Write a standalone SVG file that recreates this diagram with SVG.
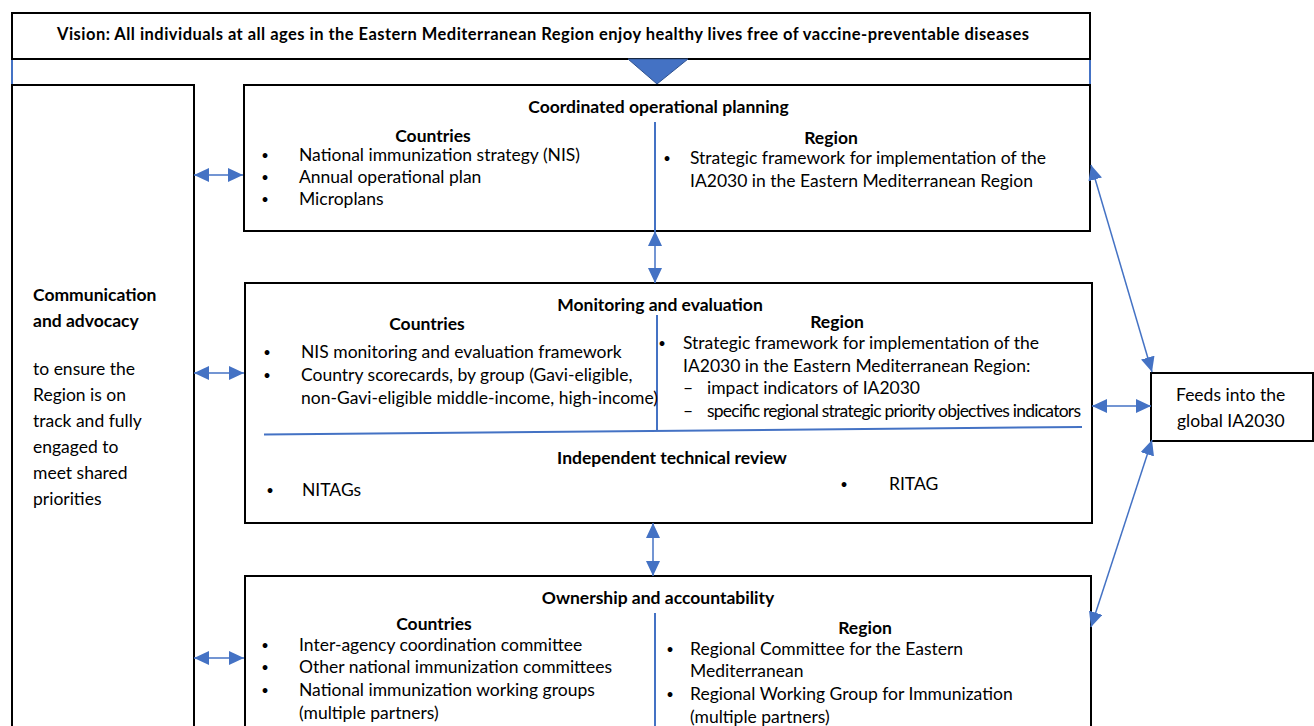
<svg xmlns="http://www.w3.org/2000/svg" width="1314" height="726" viewBox="0 0 1314 726">
<style>
text{font-family:Lato,"Liberation Sans",sans-serif;font-size:17.5px;fill:#000}
.b{font-weight:bold}
.m{text-anchor:middle}
.bu{text-anchor:middle;font-size:13px}
.box{fill:#fff;stroke:#000;stroke-width:2}
.blue{stroke:#4472C4;stroke-width:2;fill:none}
.conn{stroke:#4472C4;stroke-width:1.5;fill:none;marker-start:url(#ah);marker-end:url(#ah)}
</style>
<defs>
<marker id="ah" viewBox="0 0 15 14" refX="15" refY="7" markerWidth="15" markerHeight="14" markerUnits="userSpaceOnUse" orient="auto-start-reverse">
<path d="M0,0 L15,7 L0,14 z" fill="#4472C4"/>
</marker>
</defs>
<rect width="1314" height="726" fill="#fff"/>

<g id="frame">
<line x1="12" y1="59" x2="12" y2="85" class="blue" stroke-width="1.5"/>
<line x1="1090" y1="59" x2="1090" y2="100" class="blue" stroke-width="1.5"/>
</g>

<g id="vision">
<rect x="12" y="13" width="1078" height="46" class="box"/>
<text x="543" y="40" class="b m" style="font-size:16.5px" textLength="972" lengthAdjust="spacing">Vision: All individuals at all ages in the Eastern Mediterranean Region enjoy healthy lives free of vaccine-preventable diseases</text>
</g>

<g id="vision-pointer">
<polygon points="628,59 688,59 657,84" fill="#4472C4" stroke="#2F528F" stroke-width="1"/>
</g>

<g id="communication">
<rect x="12" y="85" width="182" height="660" class="box"/>
<text x="33" y="301" class="b">Communication</text>
<text x="33" y="327" class="b">and advocacy</text>
<text x="33" y="375">to ensure the</text>
<text x="33" y="401">Region is on</text>
<text x="33" y="427">track and fully</text>
<text x="33" y="453">engaged to</text>
<text x="33" y="479">meet shared</text>
<text x="33" y="505">priorities</text>
</g>

<g id="planning">
<rect x="244" y="85" width="846" height="146" class="box"/>
<line x1="655" y1="122" x2="655" y2="231" class="blue"/>
<text x="658.5" y="113" class="b m">Coordinated operational planning</text>
<text x="433" y="142" class="b m">Countries</text>
<text x="265" y="160" class="bu">•</text>
<text x="299" y="161">National immunization strategy (NIS)</text>
<text x="265" y="182" class="bu">•</text>
<text x="299" y="183">Annual operational plan</text>
<text x="265" y="204" class="bu">•</text>
<text x="299" y="205">Microplans</text>
<text x="831" y="144" class="b m">Region</text>
<text x="667" y="163" class="bu">•</text>
<text x="690" y="164">Strategic framework for implementation of the</text>
<text x="690" y="187">IA2030 in the Eastern Mediterranean Region</text>
</g>

<g id="monitoring">
<rect x="245" y="283" width="847" height="240" class="box"/>
<line x1="657" y1="315" x2="657" y2="431" class="blue"/>
<line x1="264" y1="434.5" x2="1082" y2="427" class="blue"/>
<text x="660" y="311" class="b m">Monitoring and evaluation</text>
<text x="427" y="330" class="b m">Countries</text>
<text x="267" y="357" class="bu">•</text>
<text x="301" y="358">NIS monitoring and evaluation framework</text>
<text x="267" y="380" class="bu">•</text>
<text x="301" y="381">Country scorecards, by group (Gavi-eligible,</text>
<text x="301" y="404">non-Gavi-eligible middle-income, high-income)</text>
<text x="837" y="328" class="b m">Region</text>
<text x="662" y="348" class="bu">•</text>
<text x="683" y="349">Strategic framework for implementation of the</text>
<text x="683" y="372">IA2030 in the Eastern Mediterranean Region:</text>
<text x="683" y="394">–</text>
<text x="707" y="394">impact indicators of IA2030</text>
<text x="683" y="417">–</text>
<text x="707" y="417" textLength="374" lengthAdjust="spacing">specific regional strategic priority objectives indicators</text>
<text x="672" y="464" class="b m">Independent technical review</text>
<text x="270" y="495" class="bu">•</text>
<text x="302" y="496">NITAGs</text>
<text x="844" y="489" class="bu">•</text>
<text x="889" y="490">RITAG</text>
</g>

<g id="ownership">
<rect x="245" y="576" width="846" height="170" class="box"/>
<line x1="655" y1="613" x2="655" y2="726" class="blue"/>
<text x="658" y="604" class="b m">Ownership and accountability</text>
<text x="434" y="630" class="b m">Countries</text>
<text x="265" y="650" class="bu">•</text>
<text x="299" y="651">Inter-agency coordination committee</text>
<text x="265" y="672" class="bu">•</text>
<text x="299" y="673">Other national immunization committees</text>
<text x="265" y="695" class="bu">•</text>
<text x="299" y="696">National immunization working groups</text>
<text x="299" y="719">(multiple partners)</text>
<text x="865" y="634" class="b m">Region</text>
<text x="670" y="654" class="bu">•</text>
<text x="690" y="655">Regional Committee for the Eastern</text>
<text x="690" y="677">Mediterranean</text>
<text x="670" y="699" class="bu">•</text>
<text x="690" y="700">Regional Working Group for Immunization</text>
<text x="690" y="723">(multiple partners)</text>
</g>

<g id="global">
<rect x="1151" y="373" width="162" height="68" class="box"/>
<text x="1176" y="401">Feeds into the</text>
<text x="1177" y="427">global IA2030</text>
</g>

<g id="connectors">
<line x1="194" y1="175" x2="243" y2="175" class="conn"/>
<line x1="194" y1="373" x2="244" y2="373" class="conn"/>
<line x1="194" y1="658" x2="244" y2="658" class="conn"/>
<line x1="655" y1="231" x2="655" y2="283" class="conn"/>
<line x1="653" y1="523" x2="653" y2="576" class="conn"/>
<line x1="1091" y1="165" x2="1152" y2="372" class="conn"/>
<line x1="1092" y1="406" x2="1151" y2="406" class="conn"/>
<line x1="1152" y1="440" x2="1091" y2="627" class="conn"/>
</g>
</svg>
